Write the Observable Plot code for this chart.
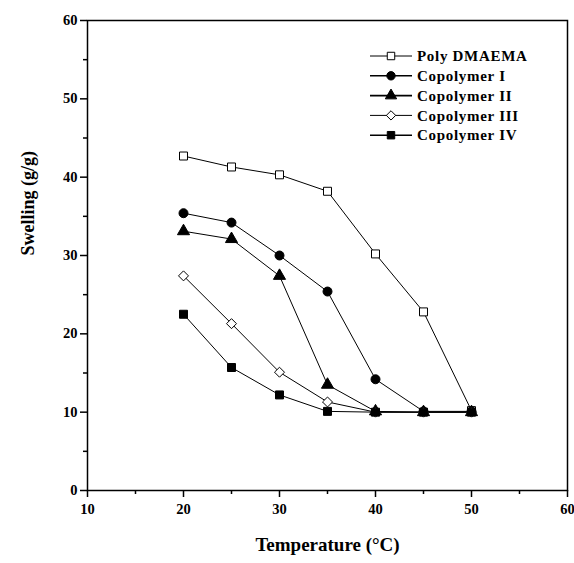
<!DOCTYPE html>
<html>
<head>
<meta charset="utf-8">
<script src="https://cdn.jsdelivr.net/npm/d3@7"></script>
<script src="https://cdn.jsdelivr.net/npm/@observablehq/plot@0.6"></script>
<style>
  html, body { margin: 0; padding: 0; background: white; }
  #chart svg { display: block; }
</style>
</head>
<body>
<div id="chart"></div>
<script>
const temperatures = [20, 25, 30, 35, 40, 45, 50];
const seriesNames = ["Poly DMAEMA", "Copolymer I", "Copolymer II", "Copolymer III", "Copolymer IV"];
const polyDMAEMA   = [42.7, 41.3, 40.3, 38.2, 30.2, 22.8, 10.2];
const copolymerI   = [35.4, 34.2, 30.0, 25.4, 14.2, 10.1, 10.1];
const copolymerII  = [33.1, 32.1, 27.4, 13.5, 10.1, 10.0, 10.0];
const copolymerIII = [27.4, 21.3, 15.1, 11.3, 10.0, 10.0, 10.0];
const copolymerIV  = [22.5, 15.7, 12.2, 10.1, 10.0, 10.0, 10.0];
const xTicks = [10, 20, 30, 40, 50, 60];
const xMinorTicks = [15, 25, 35, 45, 55];
const yTicks = [0, 10, 20, 30, 40, 50, 60];
const yMinorTicks = [5, 15, 25, 35, 45, 55];

const seriesValues = [polyDMAEMA, copolymerI, copolymerII, copolymerIII, copolymerIV];
const symbols = ["square", "circle", "triangle", "diamond2", "square"];
const fills = ["white", "black", "black", "white", "black"];
const d3Symbols = [d3.symbolSquare, d3.symbolCircle, d3.symbolTriangle, d3.symbolDiamond2, d3.symbolSquare];

const rows = [];
seriesNames.forEach((name, i) => {
  temperatures.forEach((t, j) => rows.push({series: name, temperature: t, swelling: seriesValues[i][j], idx: i}));
});

const font = "Liberation Serif, Times New Roman, serif";
const dotR = 4.5;

const marks = [
  Plot.frame({stroke: "black", strokeWidth: 1.5}),
  Plot.axisX({ticks: xTicks, label: null, tickSize: 7, tickPadding: 6, tickFormat: d => String(d), fontSize: 14.5, fontWeight: "bold", strokeWidth: 1.5}),
  Plot.axisX({ticks: xMinorTicks, label: null, tickSize: 4, text: null, strokeWidth: 1.5}),
  Plot.axisY({ticks: yTicks, label: null, tickSize: 7, tickPadding: 3, tickFormat: d => String(d), fontSize: 14.5, fontWeight: "bold", strokeWidth: 1.5}),
  Plot.axisY({ticks: yMinorTicks, label: null, tickSize: 4, text: null, strokeWidth: 1.5}),
  Plot.text(["Swelling (g/g)"], {frameAnchor: "left", dx: -59, rotate: -90, fontSize: 18, fontWeight: "bold", fill: "black", letterSpacing: "0.8px"}),
  Plot.text(["Temperature (°C)"], {frameAnchor: "bottom", dy: 60, fontSize: 19, fontWeight: "bold", fill: "black", letterSpacing: "1px"}),
  Plot.line(rows, {x: "temperature", y: "swelling", z: "series", stroke: "black", strokeWidth: 1})
];
seriesNames.forEach((name, i) => {
  marks.push(Plot.dot(rows.filter(r => r.idx === i), {
    x: "temperature", y: "swelling", symbol: symbols[i], r: dotR,
    fill: fills[i], stroke: "black", strokeWidth: 1
  }));
});

const chart = Plot.plot({
  width: 574,
  height: 563,
  marginLeft: 87,
  marginRight: 7,
  marginTop: 20,
  marginBottom: 73,
  style: {fontFamily: font, background: "white", color: "black", overflow: "visible"},
  x: {domain: [10, 60], axis: null},
  y: {domain: [0, 60], axis: null},
  marks
});
document.getElementById("chart").appendChild(chart);

// legend inside the plot area
const svg = d3.select(chart);
const lg = svg.append("g").attr("transform", "translate(370,56)");
seriesNames.forEach((name, i) => {
  const g = lg.append("g").attr("transform", `translate(0,${i * 19.8})`);
  g.append("line").attr("x1", 0).attr("x2", 42).attr("y1", 0).attr("y2", 0)
    .attr("stroke", "black").attr("stroke-width", fills[i] === "black" ? 1.6 : 1);
  g.append("path").attr("d", d3.symbol(d3Symbols[i], 4.2 * 4.2 * Math.PI)())
    .attr("transform", "translate(21,0)").attr("fill", fills[i]).attr("stroke", "black");
  g.append("text").attr("x", 47).attr("y", 0).attr("dy", "0.35em")
    .attr("text-anchor", "start")
    .attr("font-family", font).attr("font-weight", "bold").attr("font-size", 15)
    .attr("letter-spacing", "0.7px").attr("fill", "black").text(name);
});
</script>
</body>
</html>
